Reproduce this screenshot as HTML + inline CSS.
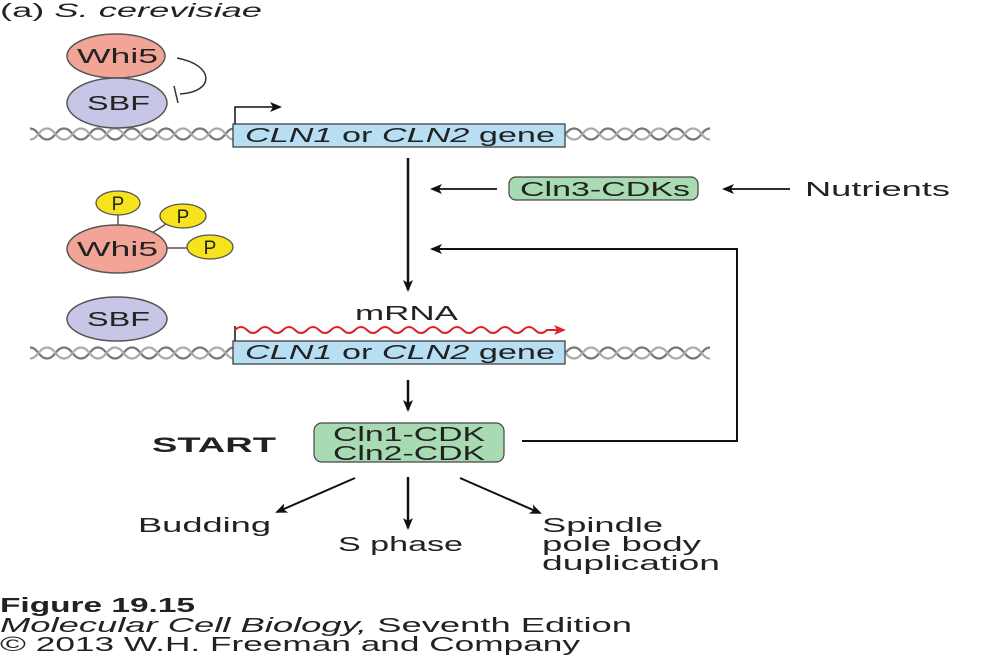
<!DOCTYPE html>
<html><head><style>
html,body{margin:0;padding:0;background:#fff;}
svg{display:block;font-family:"Liberation Sans",Arial,sans-serif;}
</style></head><body>
<svg width="991" height="655" viewBox="0 0 991 655" xmlns="http://www.w3.org/2000/svg">
<defs>
<pattern id="dna" x="30" y="127" width="34" height="14" patternUnits="userSpaceOnUse">
<path d="M0,1.5 C8,1.5 9,12.5 17,12.5 C25,12.5 26,1.5 34,1.5" fill="none" stroke="#777" stroke-width="2.2"/>
<path d="M0,12.5 C8,12.5 9,1.5 17,1.5 C25,1.5 26,12.5 34,12.5" fill="none" stroke="#aaa" stroke-width="2.2"/>
</pattern>
<pattern id="dna2" x="30" y="346" width="34" height="14" patternUnits="userSpaceOnUse">
<path d="M0,1.5 C8,1.5 9,12.5 17,12.5 C25,12.5 26,1.5 34,1.5" fill="none" stroke="#777" stroke-width="2.2"/>
<path d="M0,12.5 C8,12.5 9,1.5 17,1.5 C25,1.5 26,12.5 34,12.5" fill="none" stroke="#aaa" stroke-width="2.2"/>
</pattern>
<marker id="ah" markerWidth="12" markerHeight="10" refX="10" refY="5" orient="auto" markerUnits="userSpaceOnUse"><path d="M0,0 L12,5 L0,10 L3,5 Z" fill="#111"/></marker>
<marker id="ahr" markerWidth="12" markerHeight="10" refX="10" refY="5" orient="auto" markerUnits="userSpaceOnUse"><path d="M0,0 L12,5 L0,10 L3,5 Z" fill="#e0202a"/></marker>
</defs>

<text x="0" y="17" font-size="19" fill="#222" textLength="262" lengthAdjust="spacingAndGlyphs">(a)  <tspan font-style="italic">S. cerevisiae</tspan></text>

<!-- top section -->
<rect x="30" y="127" width="205" height="14" fill="url(#dna)"/>
<rect x="565" y="127" width="145" height="14" fill="url(#dna)"/>
<ellipse cx="116" cy="56" rx="49" ry="22" fill="#f2a597" stroke="#555" stroke-width="1.5"/>
<text x="77" y="63" font-size="20" fill="#222" textLength="81" lengthAdjust="spacingAndGlyphs">Whi5</text>
<ellipse cx="117" cy="103" rx="50" ry="25" fill="#c8c6e6" stroke="#555" stroke-width="1.5"/>
<text x="87" y="110" font-size="20" fill="#222" textLength="63" lengthAdjust="spacingAndGlyphs">SBF</text>
<path d="M177,58 C215,65 215,92 180,94" fill="none" stroke="#333" stroke-width="1.5"/>
<line x1="174" y1="86" x2="178" y2="103" stroke="#333" stroke-width="1.5"/>
<rect x="233" y="124" width="332" height="23" fill="#b8def4" stroke="#333" stroke-width="1.2"/>
<text x="245" y="142" font-size="20" fill="#222" textLength="310" lengthAdjust="spacingAndGlyphs"><tspan font-style="italic">CLN1</tspan> or <tspan font-style="italic">CLN2</tspan> gene</text>
<path d="M235,124 L235,107 L280,107" fill="none" stroke="#111" stroke-width="1.5" marker-end="url(#ah)"/>

<!-- main vertical arrow -->
<line x1="408" y1="158" x2="408" y2="290" stroke="#111" stroke-width="2.5" marker-end="url(#ah)"/>
<line x1="497" y1="189" x2="432" y2="189" stroke="#111" stroke-width="1.8" marker-end="url(#ah)"/>
<rect x="509" y="177" width="189" height="23" rx="7" fill="#a9dbb3" stroke="#444" stroke-width="1.2"/>
<text x="520" y="196" font-size="20" fill="#222" textLength="170" lengthAdjust="spacingAndGlyphs">Cln3-CDKs</text>
<line x1="790" y1="189" x2="724" y2="189" stroke="#111" stroke-width="1.8" marker-end="url(#ah)"/>
<text x="805" y="196" font-size="20" fill="#222" textLength="145" lengthAdjust="spacingAndGlyphs">Nutrients</text>
<path d="M522,441 L737,441 L737,249 L432,249" fill="none" stroke="#111" stroke-width="2" marker-end="url(#ah)"/>

<!-- phospho Whi5 -->
<line x1="118" y1="214" x2="118" y2="226" stroke="#555" stroke-width="1.5"/>
<line x1="152" y1="233" x2="166" y2="224" stroke="#555" stroke-width="1.5"/>
<line x1="165" y1="248" x2="190" y2="248" stroke="#555" stroke-width="1.5"/>
<ellipse cx="118" cy="203" rx="22" ry="12" fill="#f7e21e" stroke="#555" stroke-width="1.3"/>
<text x="118" y="210" font-size="19" text-anchor="middle" fill="#222">P</text>
<ellipse cx="183" cy="216" rx="23" ry="12" fill="#f7e21e" stroke="#555" stroke-width="1.3"/>
<text x="183" y="223" font-size="19" text-anchor="middle" fill="#222">P</text>
<ellipse cx="210" cy="247" rx="23" ry="12" fill="#f7e21e" stroke="#555" stroke-width="1.3"/>
<text x="210" y="254" font-size="19" text-anchor="middle" fill="#222">P</text>
<ellipse cx="117" cy="249" rx="50" ry="24" fill="#f2a597" stroke="#555" stroke-width="1.5"/>
<text x="77" y="256" font-size="20" fill="#222" textLength="81" lengthAdjust="spacingAndGlyphs">Whi5</text>

<!-- second gene -->
<rect x="30" y="346" width="205" height="14" fill="url(#dna2)"/>
<rect x="565" y="346" width="145" height="14" fill="url(#dna2)"/>
<ellipse cx="117" cy="319" rx="50" ry="22" fill="#c8c6e6" stroke="#555" stroke-width="1.5"/>
<text x="87" y="326" font-size="20" fill="#222" textLength="63" lengthAdjust="spacingAndGlyphs">SBF</text>
<rect x="233" y="341" width="332" height="23" fill="#b8def4" stroke="#333" stroke-width="1.2"/>
<text x="245" y="359" font-size="20" fill="#222" textLength="310" lengthAdjust="spacingAndGlyphs"><tspan font-style="italic">CLN1</tspan> or <tspan font-style="italic">CLN2</tspan> gene</text>
<line x1="235" y1="341" x2="235" y2="326" stroke="#111" stroke-width="1.5"/>
<text x="355" y="320" font-size="20" fill="#222" textLength="103" lengthAdjust="spacingAndGlyphs">mRNA</text>
<path d="M235,330 q6,-6 12,0 q6,6 12,0 q6,-6 12,0 q6,6 12,0 q6,-6 12,0 q6,6 12,0 q6,-6 12,0 q6,6 12,0 q6,-6 12,0 q6,6 12,0 q6,-6 12,0 q6,6 12,0 q6,-6 12,0 q6,6 12,0 q6,-6 12,0 q6,6 12,0 q6,-6 12,0 q6,6 12,0 q6,-6 12,0 q6,6 12,0 q6,-6 12,0 q6,6 12,0 q6,-6 12,0 q6,6 12,0 q6,-6 12,0 q6,6 12,0 L564,330" fill="none" stroke="#e0202a" stroke-width="2" marker-end="url(#ahr)"/>

<!-- lower -->
<line x1="408" y1="380" x2="408" y2="410" stroke="#111" stroke-width="2.5" marker-end="url(#ah)"/>
<text x="152" y="452" font-size="21" font-weight="bold" fill="#222" textLength="124" lengthAdjust="spacingAndGlyphs">START</text>
<rect x="314" y="423" width="190" height="39" rx="8" fill="#a9dbb3" stroke="#444" stroke-width="1.2"/>
<text x="333" y="441" font-size="20" fill="#222" textLength="152" lengthAdjust="spacingAndGlyphs">Cln1-CDK</text>
<text x="333" y="460" font-size="20" fill="#222" textLength="152" lengthAdjust="spacingAndGlyphs">Cln2-CDK</text>
<line x1="355" y1="478" x2="277" y2="512" stroke="#111" stroke-width="2" marker-end="url(#ah)"/>
<line x1="408" y1="477" x2="408" y2="528" stroke="#111" stroke-width="2.5" marker-end="url(#ah)"/>
<line x1="460" y1="478" x2="540" y2="513" stroke="#111" stroke-width="2" marker-end="url(#ah)"/>
<text x="138" y="532" font-size="20" fill="#222" textLength="133" lengthAdjust="spacingAndGlyphs">Budding</text>
<text x="338" y="551" font-size="20" fill="#222" textLength="125" lengthAdjust="spacingAndGlyphs">S phase</text>
<text x="542" y="532" font-size="20" fill="#222" textLength="121" lengthAdjust="spacingAndGlyphs">Spindle</text>
<text x="542" y="551" font-size="20" fill="#222" textLength="159" lengthAdjust="spacingAndGlyphs">pole body</text>
<text x="542" y="570" font-size="20" fill="#222" textLength="178" lengthAdjust="spacingAndGlyphs">duplication</text>

<text x="0" y="612" font-size="20" font-weight="bold" fill="#222" textLength="195" lengthAdjust="spacingAndGlyphs">Figure 19.15</text>
<text x="0" y="632" font-size="20" fill="#222" textLength="632" lengthAdjust="spacingAndGlyphs"><tspan font-style="italic">Molecular Cell Biology,</tspan> Seventh Edition</text>
<text x="0" y="651" font-size="20" fill="#222" textLength="580" lengthAdjust="spacingAndGlyphs">© 2013 W.H. Freeman and Company</text>
</svg>
</body></html>
